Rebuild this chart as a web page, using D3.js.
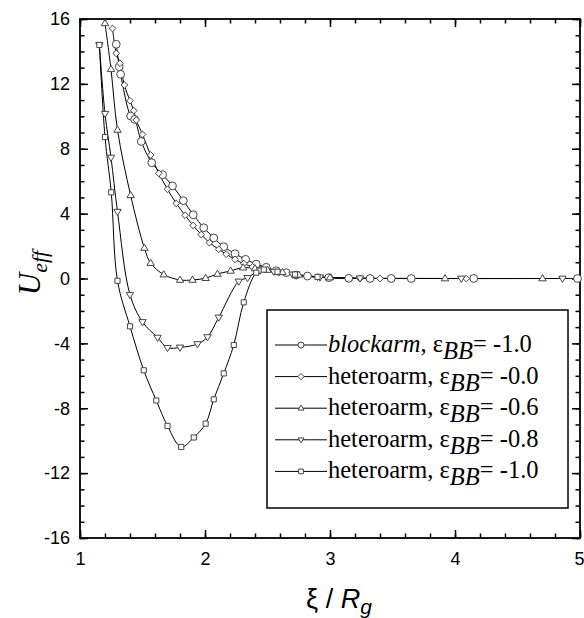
<!DOCTYPE html>
<html>
<head>
<meta charset="utf-8">
<script src="https://cdn.jsdelivr.net/npm/d3@7"></script>
<style>
  body { margin: 0; background: #fff; }
</style>
</head>
<body>
<div id="chart"></div>
<script>
// blockarm, eps_BB = -1.0 (circles)
const xBlock = [1.29, 1.314, 1.325, 1.405, 1.437, 1.49, 1.574, 1.661, 1.74, 1.827, 1.906, 1.99, 2.07, 2.15, 2.24, 2.325, 2.41, 2.49, 2.57, 2.65, 2.73, 2.82, 2.99, 3.15, 3.32, 3.49, 3.65, 4.15, 4.98];
const yBlock = [14.44, 13.06, 12.59, 10.02, 9.81, 8.45, 7.14, 6.40, 5.71, 4.80, 3.93, 3.13, 2.50, 1.96, 1.53, 1.18, 0.89, 0.69, 0.48, 0.36, 0.21, 0.15, 0.05, 0.01, 0, 0, 0, 0, 0];

// heteroarm, eps_BB = -0.0 (diamonds)
const xHet0 = [1.26, 1.29, 1.32, 1.355, 1.40, 1.43, 1.45, 1.50, 1.565, 1.63, 1.70, 1.77, 1.84, 1.905, 1.97, 2.035, 2.11, 2.17, 2.24, 2.31, 2.38, 2.45, 2.59, 2.73, 2.90, 3.24, 3.40, 4.09];
const yHet0 = [15.42, 13.88, 13.27, 11.93, 10.96, 10.35, 9.77, 8.88, 7.61, 6.49, 5.50, 4.63, 3.90, 3.27, 2.71, 2.21, 1.80, 1.50, 1.18, 0.92, 0.72, 0.56, 0.36, 0.20, 0.08, 0, 0, 0];

// heteroarm, eps_BB = -0.6 (up triangles)
const xHet6 = [1.20, 1.248, 1.30, 1.405, 1.515, 1.565, 1.67, 1.80, 1.90, 2.005, 2.10, 2.205, 2.305, 2.40, 2.50, 2.62, 2.75, 3.00, 3.92, 4.70];
const yHet6 = [15.73, 12.90, 9.16, 5.13, 1.88, 0.95, 0.24, -0.09, -0.09, 0.02, 0.28, 0.47, 0.67, 0.62, 0.52, 0.38, 0.22, 0.06, 0, 0];

// heteroarm, eps_BB = -0.8 (down triangles)
const xHet8 = [1.155, 1.20, 1.248, 1.30, 1.40, 1.50, 1.62, 1.70, 1.80, 1.94, 2.02, 2.11, 2.27, 2.34, 2.44, 2.55, 2.70, 2.92, 3.24, 4.05, 4.86];
const yHet8 = [14.40, 10.16, 7.46, 4.12, -1.00, -2.68, -3.64, -4.27, -4.25, -4.04, -3.61, -2.40, -0.18, 0.04, 0.50, 0.42, 0.25, 0.08, 0.02, 0, 0];

// heteroarm, eps_BB = -1.0 (squares)
const xHet10 = [1.155, 1.20, 1.25, 1.30, 1.40, 1.51, 1.61, 1.70, 1.81, 1.91, 2.005, 2.07, 2.15, 2.23, 2.31, 2.41, 2.47, 2.58, 2.72, 2.90];
const yHet10 = [14.40, 8.72, 5.31, -0.14, -2.95, -5.66, -7.52, -9.09, -10.39, -9.80, -8.95, -7.45, -5.85, -4.10, -1.47, 0.36, 0.55, 0.42, 0.25, 0.10];

const seriesX = [xBlock, xHet0, xHet6, xHet8, xHet10];
const seriesY = [yBlock, yHet0, yHet6, yHet8, yHet10];
const armNames = ["blockarm", "heteroarm", "heteroarm", "heteroarm", "heteroarm"];
const epsValues = ["-1.0", "-0.0", "-0.6", "-0.8", "-1.0"];
const shapes = ["circle", "diamond", "up", "down", "square"];

const xTicks = [1, 2, 3, 4, 5];
const yTicks = [-16, -12, -8, -4, 0, 4, 8, 12, 16];

const width = 584, height = 618;
const plot = { left: 80, right: 580, top: 19, bottom: 538 };

const x = d3.scaleLinear().domain([1, 5]).range([plot.left, plot.right]);
const y = d3.scaleLinear().domain([-16, 16]).range([plot.bottom, plot.top]);

const svg = d3.select("#chart").append("svg")
  .attr("width", width)
  .attr("height", height)
  .style("font-family", "'Liberation Sans', Arial, sans-serif");

// marker path for a shape centred on 0,0
function markerPath(shape, s) {
  if (shape === "circle") {
    const r = s;
    return `M${-r},0A${r},${r} 0 1,0 ${r},0A${r},${r} 0 1,0 ${-r},0Z`;
  }
  if (shape === "diamond") {
    const r = s * 1.05;
    return `M0,${-r}L${r},0L0,${r}L${-r},0Z`;
  }
  if (shape === "up") {
    const r = s * 1.05;
    return `M0,${-r}L${r * 0.95},${r * 0.6}L${-r * 0.95},${r * 0.6}Z`;
  }
  if (shape === "down") {
    const r = s * 1.05;
    return `M0,${r}L${r * 0.95},${-r * 0.6}L${-r * 0.95},${-r * 0.6}Z`;
  }
  const h = s * 0.78;
  return `M${-h},${-h}H${h}V${h}H${-h}Z`;
}

const markerSize = [3.9, 3.2, 3.7, 3.7, 3.3];

// axes: major and minor ticks pointing inward on all four sides
function styleAxis(g) {
  g.select(".domain").remove();
  g.selectAll(".tick line").attr("stroke", "#000").attr("stroke-width", 1.5);
  g.selectAll(".tick text").attr("fill", "#000").attr("font-size", "18px")
    .attr("font-family", "'Liberation Sans', Arial, sans-serif");
}

const xMinor = d3.range(1, 5.001, 0.2);
const yMinor = d3.range(-16, 16.001, 1);
const plainLabel = d => String(d);

svg.append("g").attr("transform", `translate(0,${plot.bottom})`)
  .call(d3.axisBottom(x).tickValues(xMinor).tickSizeInner(-4.5).tickSizeOuter(0).tickFormat(""))
  .call(styleAxis);
svg.append("g").attr("transform", `translate(0,${plot.bottom})`)
  .call(d3.axisBottom(x).tickValues(xTicks).tickSizeInner(-8).tickSizeOuter(0).tickPadding(14).tickFormat(plainLabel))
  .call(styleAxis)
  // last label sits on the window edge: keep it fully inside
  .call(g => g.selectAll(".tick text").filter(d => d === 5).attr("text-anchor", "end").attr("x", 4));
svg.append("g").attr("transform", `translate(0,${plot.top})`)
  .call(d3.axisTop(x).tickValues(xMinor).tickSizeInner(-4.5).tickSizeOuter(0).tickFormat(""))
  .call(styleAxis);
svg.append("g").attr("transform", `translate(0,${plot.top})`)
  .call(d3.axisTop(x).tickValues(xTicks).tickSizeInner(-8).tickSizeOuter(0).tickFormat(""))
  .call(styleAxis);

svg.append("g").attr("transform", `translate(${plot.left},0)`)
  .call(d3.axisLeft(y).tickValues(yMinor).tickSizeInner(-4.5).tickSizeOuter(0).tickFormat(""))
  .call(styleAxis);
svg.append("g").attr("transform", `translate(${plot.left},0)`)
  .call(d3.axisLeft(y).tickValues(yTicks).tickSizeInner(-8).tickSizeOuter(0).tickPadding(10).tickFormat(plainLabel))
  .call(styleAxis);
svg.append("g").attr("transform", `translate(${plot.right},0)`)
  .call(d3.axisRight(y).tickValues(yMinor).tickSizeInner(-4.5).tickSizeOuter(0).tickFormat(""))
  .call(styleAxis);
svg.append("g").attr("transform", `translate(${plot.right},0)`)
  .call(d3.axisRight(y).tickValues(yTicks).tickSizeInner(-8).tickSizeOuter(0).tickFormat(""))
  .call(styleAxis);

// frame
svg.append("rect")
  .attr("x", plot.left).attr("y", plot.top)
  .attr("width", plot.right - plot.left).attr("height", plot.bottom - plot.top)
  .attr("fill", "none").attr("stroke", "#000").attr("stroke-width", 1.8);

// curves
const line = d3.line()
  .x(d => x(d[0]))
  .y(d => y(d[1]))
  .curve(d3.curveCatmullRom.alpha(0.5));

const plotG = svg.append("g");

seriesX.forEach((xs, i) => {
  const pts = xs.map((v, j) => [v, seriesY[i][j]]);
  plotG.append("path")
    .datum(pts)
    .attr("d", line)
    .attr("fill", "none")
    .attr("stroke", "#000")
    .attr("stroke-width", 1);
});

seriesX.forEach((xs, i) => {
  const pts = xs.map((v, j) => [v, seriesY[i][j]]);
  plotG.selectAll(null)
    .data(pts)
    .join("path")
    .attr("transform", d => `translate(${x(d[0])},${y(d[1])})`)
    .attr("d", markerPath(shapes[i], markerSize[i]))
    .attr("fill", "#fff")
    .attr("stroke", "#444")
    .attr("stroke-width", 1);
});

// legend
const legend = svg.append("g").attr("transform", "translate(267,310)");
legend.append("rect")
  .attr("width", 301).attr("height", 198)
  .attr("fill", "#fff").attr("stroke", "#000").attr("stroke-width", 1.5);

armNames.forEach((name, i) => {
  const ry = 35 + i * 31.6;
  const row = legend.append("g").attr("transform", `translate(0,${ry})`);
  row.append("line").attr("x1", 8).attr("x2", 60).attr("y1", 0).attr("y2", 0)
    .attr("stroke", "#000").attr("stroke-width", 1);
  row.append("path")
    .attr("transform", "translate(34,0)")
    .attr("d", markerPath(shapes[i], 3))
    .attr("fill", "#fff").attr("stroke", "#444");
  const t = row.append("text")
    .attr("x", 61).attr("y", 7)
    .attr("font-family", "'Liberation Serif', 'Times New Roman', serif")
    .attr("font-size", "24.5px")
    .attr("fill", "#000");
  t.append("tspan").attr("font-style", i === 0 ? "italic" : "normal").text(name);
  t.append("tspan").text(", \u03B5");
  t.append("tspan").attr("font-style", "italic").attr("dy", 7).text("BB");
  t.append("tspan").attr("dy", -7).text("= " + epsValues[i]);
});

// axis titles
const yTitle = svg.append("text")
  .attr("transform", "translate(40,273) rotate(-90)")
  .attr("text-anchor", "middle")
  .attr("font-family", "'Liberation Serif', 'Times New Roman', serif")
  .attr("font-style", "italic")
  .attr("font-size", "31px")
  .attr("fill", "#000");
yTitle.append("tspan").text("U");
yTitle.append("tspan").attr("font-size", "22px").attr("dy", 7).text("eff");

const xTitle = svg.append("text")
  .attr("x", 339).attr("y", 608)
  .attr("text-anchor", "middle")
  .attr("font-size", "27px")
  .attr("fill", "#000");
xTitle.append("tspan").text("\u03BE / ");
xTitle.append("tspan").attr("font-style", "italic").text("R");
xTitle.append("tspan").attr("font-style", "italic").attr("font-size", "21px").attr("dy", 6).text("g");
</script>
</body>
</html>
